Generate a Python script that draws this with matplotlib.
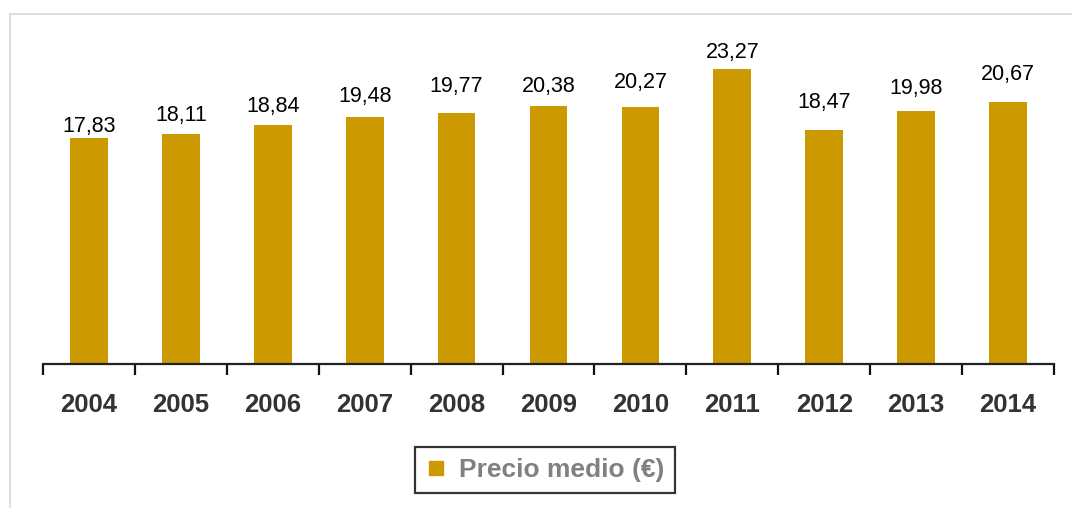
import matplotlib
matplotlib.use("Agg")
import matplotlib.pyplot as plt
from matplotlib.patches import Rectangle
from matplotlib.lines import Line2D

years = ["2004", "2005", "2006", "2007", "2008", "2009", "2010", "2011", "2012", "2013", "2014"]
precio = [17.83, 18.11, 18.84, 19.48, 19.77, 20.38, 20.27, 23.27, 18.47, 19.98, 20.67]
series_name = "Precio medio (€)"

# layout: gap (pixels) between bar top and label baseline, as placed in the original
label_gap_px = [6, 13, 13, 15, 21, 14, 19, 11, 22, 17, 22]

plt.rcParams['font.family'] = ['Liberation Sans', 'DejaVu Sans']

W, H = 1072, 508
fig = plt.figure(figsize=(W / 100, H / 100), dpi=100)
fig.patch.set_facecolor("white")

# light frame around chart
fig.patches.append(Rectangle((10 / W, -0.2), 1.5, (H - 14) / H + 0.2,
                             transform=fig.transFigure, fill=False,
                             edgecolor="#d9d9d9", linewidth=1.2))

ax_left, ax_right = 43 / W, 1054 / W
ax_bottom = (H - 364) / H
ax_top_px = 364 - 25 * 12.68
ax = fig.add_axes([ax_left, ax_bottom, ax_right - ax_left, (364 - ax_top_px) / H])

color = "#CC9900"
x = list(range(len(years)))
bars = ax.bar(x, precio, width=0.41, color=color)
for xi, v, g in zip(x, precio, label_gap_px):
    ax.annotate(f"{v:.2f}".replace(".", ","), xy=(xi, v), xytext=(0, g * 0.72),
                textcoords="offset points", ha="center", va="baseline",
                fontsize=15.5, color="black")

ax.set_xlim(-0.5, len(years) - 0.5)
ax.set_ylim(0, 25)

for s in ["top", "right", "left"]:
    ax.spines[s].set_visible(False)
ax.spines["bottom"].set_linewidth(1.6)
ax.spines["bottom"].set_color("#222222")
ax.yaxis.set_visible(False)

ax.set_xticks([i - 0.5 for i in range(len(years) + 1)])
ax.set_xticklabels([])
ax.tick_params(axis="x", which="major", direction="out", length=8, width=1.6, color="#111111")
ax.set_xticks(x, minor=True)
ax.set_xticklabels(years, minor=True, fontsize=18.5, fontweight="bold", color="#333333")
ax.tick_params(axis="x", which="minor", length=0, pad=21)

handle = Line2D([], [], marker="s", linestyle="none", markersize=10.5,
                markerfacecolor=color, markeredgecolor=color)
leg = fig.legend([handle], [series_name], loc="center",
                 bbox_to_anchor=(545 / W, (H - 470) / H), frameon=True,
                 fancybox=False, handletextpad=0.45, borderpad=0.4,
                 borderaxespad=0, handlelength=0.8,
                 prop={"size": 19, "weight": "bold"})
leg.get_frame().set_edgecolor("black")
leg.get_frame().set_linewidth(1.6)
for t in leg.get_texts():
    t.set_color("#808080")

fig.savefig("out.png", dpi=100, facecolor="white")
